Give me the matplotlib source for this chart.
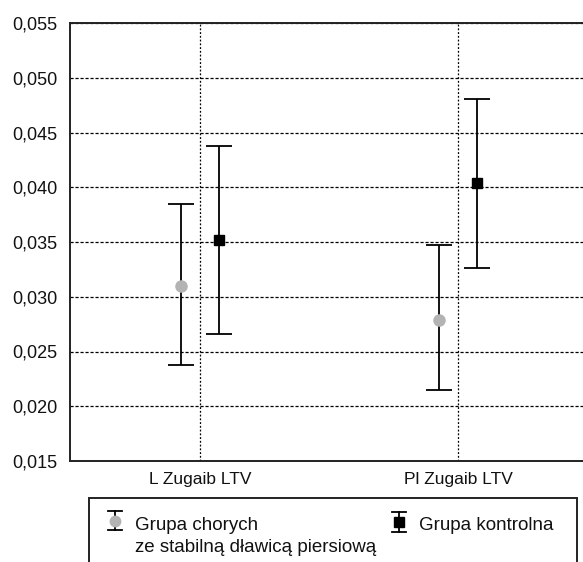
import matplotlib.pyplot as plt
from matplotlib.ticker import FuncFormatter
from matplotlib.patches import Rectangle
from matplotlib.lines import Line2D

# data
categories = ['L Zugaib LTV', 'Pl Zugaib LTV']
chorzy_mean = [0.0310, 0.0279]
chorzy_low = [0.0238, 0.0215]
chorzy_high = [0.0385, 0.0347]
kontrola_mean = [0.0352, 0.0404]
kontrola_low = [0.0266, 0.0326]
kontrola_high = [0.0438, 0.0481]
labels = ['Grupa chorych', 'ze stabilną dławicą piersiową', 'Grupa kontrolna']

plt.rcParams['font.family'] = ['Liberation Sans', 'DejaVu Sans']
plt.rcParams['font.size'] = 12

W, H = 583, 562
fig = plt.figure(figsize=(W / 100, H / 100), dpi=100)
ax = fig.add_axes([70 / W, 1 - 461 / H, 1 - 70 / W, (461 - 23) / H])

x = list(range(len(categories)))
off = 0.075

err1 = [[m - l for m, l in zip(chorzy_mean, chorzy_low)],
        [h - m for m, h in zip(chorzy_mean, chorzy_high)]]
err2 = [[m - l for m, l in zip(kontrola_mean, kontrola_low)],
        [h - m for m, h in zip(kontrola_mean, kontrola_high)]]

ax.errorbar([i - off for i in x], chorzy_mean, yerr=err1, fmt='o', color='#b3b3b3',
            ecolor='black', elinewidth=1.3, capsize=9.5, capthick=1.3,
            markersize=8, zorder=3)
ax.errorbar([i + off for i in x], kontrola_mean, yerr=err2, fmt='s', color='black',
            ecolor='black', elinewidth=1.3, capsize=9.5, capthick=1.3,
            markersize=7, zorder=3)

ax.set_ylim(0.015, 0.055)
ax.set_xlim(-0.504, 1.484)
ax.set_yticks([0.015, 0.020, 0.025, 0.030, 0.035, 0.040, 0.045, 0.050, 0.055])
ax.yaxis.set_major_formatter(FuncFormatter(lambda v, p: f'{v:.3f}'.replace('.', ',')))
ax.set_xticks(x)
ax.set_xticklabels(categories)
ax.tick_params(axis='both', length=0, colors='#111111')
ax.tick_params(axis='y', pad=9, labelsize=13)
ax.tick_params(axis='x', pad=8, labelsize=12.5)

ax.grid(axis='y', color='black', linestyle=(0, (2.5, 1.5)), linewidth=0.9)
ax.grid(axis='x', color='black', linestyle=(0, (1.5, 1.5)), linewidth=0.9)
ax.set_axisbelow(True)

for s in ['left', 'top', 'bottom']:
    ax.spines[s].set_linewidth(1.4)
    ax.spines[s].set_color('#222222')
ax.spines['right'].set_visible(False)


# legend box drawn by hand (bottom is cut off in the original)
def fx(px):
    return px / W


def fy(py):
    return 1 - py / H


fig.add_artist(Rectangle((fx(89), fy(575)), fx(577) - fx(89), fy(498) - fy(575),
                         transform=fig.transFigure, fill=False,
                         edgecolor='#222222', linewidth=1.4))


def legend_glyph(cx, top, bottom, marker, color, ms):
    kw = dict(transform=fig.transFigure, color='black', linewidth=1.3)
    fig.add_artist(Line2D([fx(cx), fx(cx)], [fy(top), fy(bottom)], **kw))
    fig.add_artist(Line2D([fx(cx - 7), fx(cx + 7)], [fy(top), fy(top)], **kw))
    fig.add_artist(Line2D([fx(cx - 7), fx(cx + 7)], [fy(bottom), fy(bottom)], **kw))
    fig.add_artist(Line2D([fx(cx)], [fy((top + bottom) / 2)], transform=fig.transFigure,
                          marker=marker, color=color, markersize=ms, linestyle='none'))


legend_glyph(115, 511, 530, 'o', '#b3b3b3', 7.5)
legend_glyph(399, 512, 532, 's', 'black', 6.5)

fig.text(fx(135), fy(530), labels[0], fontsize=13.5, va='baseline', color='#111111')
fig.text(fx(135), fy(552), labels[1], fontsize=13.5, va='baseline', color='#111111')
fig.text(fx(419), fy(530), labels[2], fontsize=13.5, va='baseline', color='#111111')

fig.savefig('out.png', dpi=100)
